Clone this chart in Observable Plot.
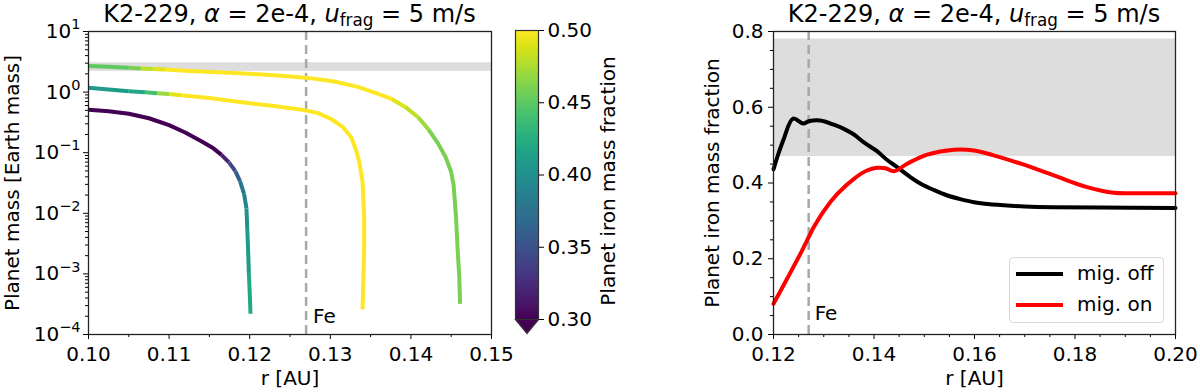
<!DOCTYPE html>
<html>
<head>
<meta charset="utf-8">
<script src="https://cdn.jsdelivr.net/npm/d3@7"></script>
<script src="https://cdn.jsdelivr.net/npm/@observablehq/plot@0.6"></script>
<style>
  body { margin: 0; background: #fff; font-family: "DejaVu Sans", sans-serif; }
  #wrap { position: relative; width: 1200px; height: 392px; overflow: hidden; background: #fff; }
  #wrap svg { position: absolute; top: 0; overflow: visible; }
  .title { position: absolute; top: 2px; font-size: 24px; line-height: 24px; white-space: nowrap; transform: translateX(-50%); color: #000; }
  .title sub { font-size: 70%; vertical-align: -0.22em; line-height: 0; }
  .legend { position: absolute; left: 1009px; top: 257px; width: 155px; height: 66px; box-sizing: border-box;
            border: 1px solid #d9d9d9; border-radius: 4px; background: rgba(255,255,255,0.8); }
  .legend .ln { position: absolute; left: 6px; width: 47px; }
  .legend .lt { position: absolute; left: 67px; font-size: 20px; line-height: 20px; color: #000; }
</style>
</head>
<body>
<div id="wrap"></div>
<script>
// ---------------- data: left panel (planet mass tracks) ----------------
const trackNames = ["track 1", "track 2", "track 3"];
const t1R  = [0.1000, 0.1025, 0.1050, 0.1075, 0.1100, 0.1120, 0.1140, 0.1155, 0.1165, 0.1174, 0.1182, 0.1188, 0.1193, 0.1196, 0.1197, 0.1198, 0.1199, 0.1200, 0.1201];
const t1M  = [0.51, 0.485, 0.44, 0.37, 0.285, 0.215, 0.155, 0.118, 0.092, 0.070, 0.050, 0.034, 0.021, 0.012, 0.0055, 0.0025, 0.0010, 0.0005, 0.00022];
const t1Fe = [0.30, 0.30, 0.30, 0.30, 0.30, 0.30, 0.30, 0.30, 0.32, 0.34, 0.36, 0.38, 0.39, 0.40, 0.41, 0.41, 0.42, 0.42, 0.42];

const t2R  = [0.1000, 0.1025, 0.1050, 0.1070, 0.1085, 0.1100, 0.1115, 0.1150, 0.1190, 0.1230, 0.1265, 0.1285, 0.1301, 0.1315, 0.1326, 0.1332, 0.1336, 0.1340, 0.1342, 0.1342, 0.1341, 0.1340];
const t2M  = [1.18, 1.10, 1.03, 0.99, 0.96, 0.93, 0.89, 0.80, 0.68, 0.59, 0.51, 0.45, 0.36, 0.27, 0.18, 0.11, 0.07, 0.033, 0.0087, 0.0025, 0.0008, 0.00026];
const t2Fe = [0.41, 0.41, 0.42, 0.44, 0.47, 0.49, 0.50, 0.50, 0.50, 0.50, 0.50, 0.50, 0.50, 0.50, 0.50, 0.50, 0.50, 0.50, 0.50, 0.50, 0.50, 0.50];

const t3R  = [0.1000, 0.1025, 0.1050, 0.1065, 0.1080, 0.1095, 0.1120, 0.1160, 0.1200, 0.1240, 0.1275, 0.1305, 0.1334, 0.1355, 0.1376, 0.1393, 0.1409, 0.1422, 0.1434, 0.1443, 0.1450, 0.1453, 0.1456, 0.1458, 0.1460, 0.1461];
const t3M  = [2.70, 2.62, 2.52, 2.46, 2.41, 2.35, 2.25, 2.12, 2.00, 1.86, 1.70, 1.50, 1.22, 0.98, 0.77, 0.57, 0.385, 0.24, 0.14, 0.085, 0.048, 0.029, 0.0086, 0.0025, 0.0009, 0.00032];
const t3Fe = [0.45, 0.45, 0.46, 0.48, 0.49, 0.50, 0.50, 0.50, 0.50, 0.50, 0.50, 0.50, 0.50, 0.50, 0.49, 0.48, 0.47, 0.46, 0.46, 0.46, 0.46, 0.46, 0.46, 0.46, 0.46, 0.46];

const massBand = [2.2, 3.05];          // observed planet mass range [Earth mass]
const feLineR = 0.127;                  // Fe ice line [AU]
const leftXDomain = [0.10, 0.15];
const leftYDomain = [1e-4, 10];
const leftXTicks = [0.10, 0.11, 0.12, 0.13, 0.14, 0.15];
const leftYTicks = [1e-4, 1e-3, 1e-2, 1e-1, 1, 10];

// ---------------- data: colorbar ----------------
const cbDomain = [0.30, 0.50];
const cbTicks = [0.30, 0.35, 0.40, 0.45, 0.50];

// ---------------- data: right panel (iron fraction) ----------------
const seriesNames = ["mig. off", "mig. on"];
const offR = [0.1200, 0.1210, 0.1220, 0.1239, 0.1259, 0.1270, 0.1293, 0.1320, 0.1340, 0.1360, 0.1380, 0.1406, 0.1425, 0.1446, 0.1470, 0.1493, 0.1520, 0.1546, 0.1570, 0.1599, 0.1620, 0.1658, 0.1700, 0.1758, 0.1850, 0.2000];
const offV = [0.436, 0.478, 0.515, 0.570, 0.557, 0.563, 0.565, 0.554, 0.543, 0.528, 0.507, 0.484, 0.462, 0.442, 0.418, 0.398, 0.381, 0.367, 0.358, 0.349, 0.345, 0.341, 0.338, 0.336, 0.335, 0.334];
const onR  = [0.1200, 0.1227, 0.1257, 0.1270, 0.1280, 0.1300, 0.1327, 0.1360, 0.1386, 0.1406, 0.1423, 0.1440, 0.1466, 0.1506, 0.1559, 0.1599, 0.1638, 0.1692, 0.1758, 0.1824, 0.1877, 0.1924, 0.2000];
const onV  = [0.081, 0.147, 0.222, 0.257, 0.283, 0.326, 0.371, 0.411, 0.433, 0.440, 0.439, 0.431, 0.451, 0.475, 0.488, 0.486, 0.473, 0.451, 0.420, 0.389, 0.374, 0.373, 0.373];
const seriesColors = ["#000000", "#ff0000"];
const feBand = [0.47, 0.78];            // observed iron fraction range
const rightXDomain = [0.12, 0.20];
const rightYDomain = [0.0, 0.8];
const rightXTicks = [0.12, 0.14, 0.16, 0.18, 0.20];
const rightYTicks = [0.0, 0.2, 0.4, 0.6, 0.8];

const titleHTML = 'K2-229, <i>α</i> = 2e-4, <i>u</i><sub>frag</sub> = 5 m/s';

// ---------------- build tables ----------------
const tracks = [[t1R, t1M, t1Fe], [t2R, t2M, t2Fe], [t3R, t3M, t3Fe]];
const trackRows = tracks.flatMap(([R, M, F], k) => R.map((r, i) => ({track: trackNames[k], r, m: M[i], fe: F[i]})));
const feRows = [[offR, offV], [onR, onV]].flatMap(([R, V], k) => R.map((r, i) => ({series: seriesNames[k], r, v: V[i]})));

// minor tick positions
const logMinor = d3.scaleLog().domain(leftYDomain).ticks().filter(v => !leftYTicks.some(t => Math.abs(t - v) / t < 1e-9));
const leftXMinor = d3.range(0, 11).map(i => leftXDomain[0] + i * 0.005).filter(v => !leftXTicks.some(t => Math.abs(t - v) < 1e-9));
const rightXMinor = d3.range(0, 17).map(i => rightXDomain[0] + i * 0.005).filter(v => !rightXTicks.some(t => Math.abs(t - v) < 1e-9));
const rightYMinor = d3.range(0, 17).map(i => i * 0.05).filter(v => !rightYTicks.some(t => Math.abs(t - v) < 1e-9));

const baseStyle = {fontFamily: "DejaVu Sans", fontSize: "20px", color: "#000", background: "transparent", overflow: "visible"};
const blank = () => "";

// ---------------- left panel ----------------
const left = Plot.plot({
  width: 500, height: 392,
  marginLeft: 88, marginRight: 9, marginTop: 31, marginBottom: 58,
  style: baseStyle,
  x: {domain: leftXDomain, label: null},
  y: {type: "log", domain: leftYDomain, label: null},
  color: {type: "linear", scheme: "viridis", domain: cbDomain, clamp: true},
  marks: [
    Plot.rect([massBand], {x1: () => leftXDomain[0], x2: () => leftXDomain[1], y1: d => d[0], y2: d => d[1], fill: "#dddddd"}),
    Plot.ruleX([feLineR], {stroke: "#a8a8a8", strokeWidth: 2.5, strokeDasharray: "9,5"}),
    Plot.line(trackRows, {x: "r", y: "m", z: "track", stroke: "fe", strokeWidth: 4, strokeLinejoin: "round", strokeLinecap: "butt"}),
    Plot.text(["Fe"], {x: () => feLineR, y: () => 1.95e-4, dx: 7, textAnchor: "start", fontSize: 20}),
    Plot.axisX({ticks: leftXTicks, tickFormat: ".2f", tickSize: 5, tickPadding: 7, label: null}),
    Plot.axisX({ticks: leftXMinor, tickFormat: blank, tickSize: 3, label: null}),
    Plot.axisY({ticks: leftYTicks, tickFormat: d => "10^" + String(Math.round(Math.log10(d))).replace("-", "\u2212"), tickSize: 5, tickPadding: 3, label: null}),
    Plot.axisY({ticks: logMinor, tickFormat: blank, tickSize: 3, label: null}),
    Plot.text(["Planet mass [Earth mass]"], {frameAnchor: "left", dx: -76, rotate: -90, textAnchor: "middle", lineAnchor: "middle", fontSize: 20}),
    Plot.text(["r [AU]"], {frameAnchor: "bottom", dy: 44, textAnchor: "middle", lineAnchor: "middle", fontSize: 20}),
    Plot.frame({stroke: "#222", strokeWidth: 1.3})
  ]
});

// superscript exponents on the log axis
d3.select(left).selectAll("text").each(function () {
  const t = this.textContent;
  const m = t.match(/^10\^(.+)$/);
  if (!m) return;
  const s = d3.select(this);
  s.text("");
  s.append("tspan").text("10");
  s.append("tspan").attr("dy", "-0.6em").attr("font-size", "14.5px").text(m[1]);
});

// ---------------- colorbar ----------------
const cbSteps = d3.range(0, 200).map(i => cbDomain[0] + i * 0.001);
const cbTriangle = {
  draw(ctx) { ctx.moveTo(-11.5, 0); ctx.lineTo(11.5, 0); ctx.lineTo(0, 14); ctx.closePath(); }
};
const cbar = Plot.plot({
  width: 140, height: 392,
  marginLeft: 15, marginRight: 102, marginTop: 30, marginBottom: 73,
  style: baseStyle,
  x: {domain: [0, 1], axis: null},
  y: {domain: cbDomain, label: null},
  color: {type: "linear", scheme: "viridis", domain: cbDomain, clamp: true},
  marks: [
    Plot.rect(cbSteps, {x1: () => 0, x2: () => 1, y1: d => d, y2: d => d + 0.00105, fill: d => d + 0.0005, shapeRendering: "crispEdges"}),
    Plot.frame({stroke: "#333", strokeWidth: 1.2}),
    Plot.dot([cbDomain[0]], {x: () => 0.5, y: d => d, symbol: cbTriangle, fill: () => cbDomain[0], stroke: "#333", strokeWidth: 1.2}),
    Plot.axisY({anchor: "right", ticks: cbTicks, tickFormat: ".2f", tickSize: 5, tickPadding: 4, label: null}),
    Plot.text(["Planet iron mass fraction"], {frameAnchor: "right", dx: 70, dy: 6, rotate: -90, textAnchor: "middle", lineAnchor: "middle", fontSize: 20})
  ]
});

// ---------------- right panel ----------------
const right = Plot.plot({
  width: 520, height: 392,
  marginLeft: 93, marginRight: 25, marginTop: 31, marginBottom: 58,
  style: baseStyle,
  x: {domain: rightXDomain, label: null},
  y: {domain: rightYDomain, label: null},
  color: {domain: seriesNames, range: seriesColors},
  marks: [
    Plot.rect([feBand], {x1: () => rightXDomain[0], x2: () => rightXDomain[1], y1: d => d[0], y2: d => d[1], fill: "#dddddd"}),
    Plot.ruleX([feLineR], {stroke: "#a8a8a8", strokeWidth: 2.5, strokeDasharray: "9,5"}),
    Plot.line(feRows, {x: "r", y: "v", z: "series", stroke: "series", strokeWidth: 4, strokeLinejoin: "round", curve: "catmull-rom"}),
    Plot.text(["Fe"], {x: () => feLineR, y: () => 0.055, dx: 6, textAnchor: "start", fontSize: 20}),
    Plot.axisX({ticks: rightXTicks, tickFormat: ".2f", tickSize: 5, tickPadding: 7, label: null}),
    Plot.axisX({ticks: rightXMinor, tickFormat: blank, tickSize: 3, label: null}),
    Plot.axisY({ticks: rightYTicks, tickFormat: ".1f", tickSize: 5, tickPadding: 5, label: null}),
    Plot.axisY({ticks: rightYMinor, tickFormat: blank, tickSize: 3, label: null}),
    Plot.text(["Planet iron mass fraction"], {frameAnchor: "left", dx: -61, rotate: -90, textAnchor: "middle", lineAnchor: "middle", fontSize: 20}),
    Plot.text(["r [AU]"], {frameAnchor: "bottom", dy: 44, textAnchor: "middle", lineAnchor: "middle", fontSize: 20}),
    Plot.frame({stroke: "#222", strokeWidth: 1.3})
  ]
});

// ---------------- assemble ----------------
const wrap = document.getElementById("wrap");
left.style.left = "0px";
cbar.style.left = "500px";
right.style.left = "680px";
wrap.appendChild(left);
wrap.appendChild(cbar);
wrap.appendChild(right);

function addTitle(cx) {
  const d = document.createElement("div");
  d.className = "title";
  d.style.left = cx + "px";
  d.innerHTML = titleHTML;
  wrap.appendChild(d);
}
addTitle(289.5);
addTitle(974);

const lg = document.createElement("div");
lg.className = "legend";
seriesNames.forEach((name, i) => {
  const cy = [15.5, 46.5][i];
  const ln = document.createElement("div");
  ln.className = "ln";
  ln.style.top = (cy - 2) + "px";
  ln.style.height = "4px";
  ln.style.background = seriesColors[i];
  lg.appendChild(ln);
  const tx = document.createElement("div");
  tx.className = "lt";
  tx.style.top = (cy - 11) + "px";
  tx.textContent = name;
  lg.appendChild(tx);
});
wrap.appendChild(lg);
</script>
</body>
</html>
